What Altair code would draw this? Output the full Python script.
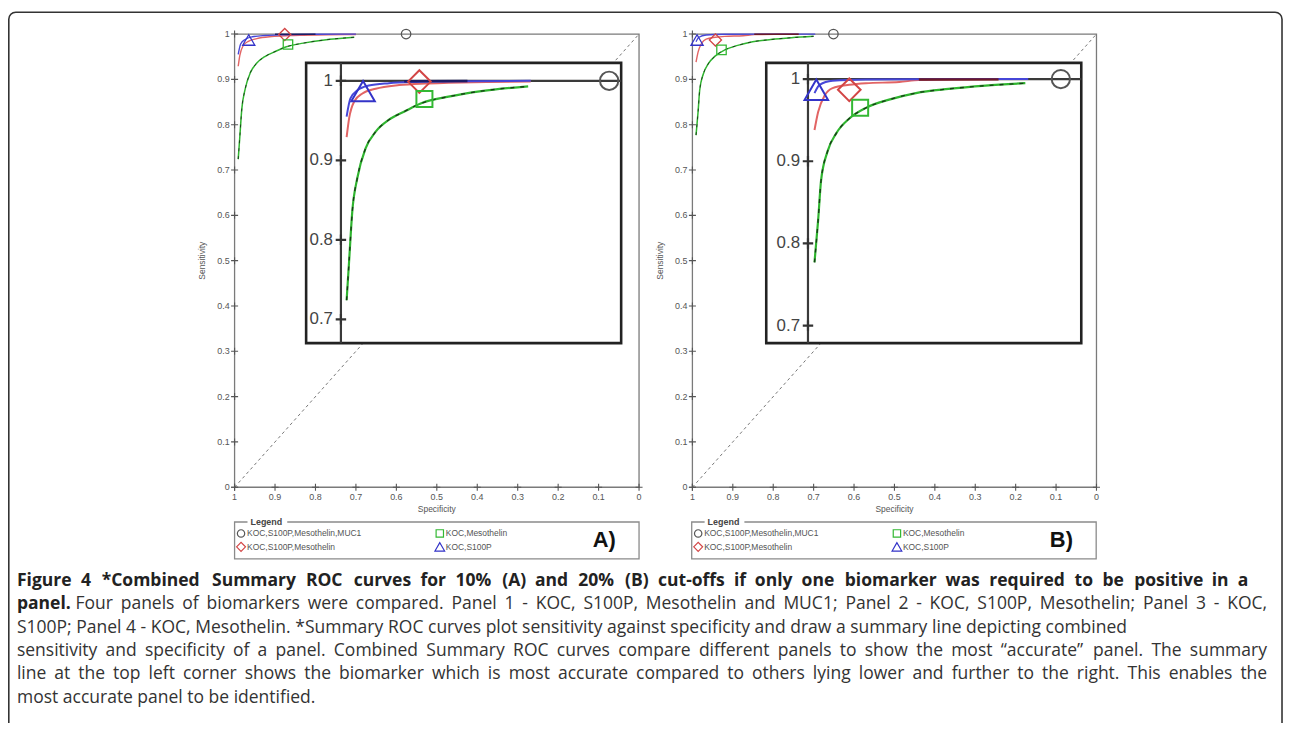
import altair as alt
import pandas as pd

# ---------------- data ----------------
SERIES = ["KOC,S100P,Mesothelin,MUC1", "KOC,S100P,Mesothelin", "KOC,Mesothelin", "KOC,S100P"]
SHAPES = ["circle", "diamond", "square", "triangle-up"]
MARK_COLORS = ["#555555", "#d24545", "#33b833", "#3333c8"]

# Panel A (10% cut-off) summary curves
A_GREEN_SPEC = [0.991, 0.987, 0.982, 0.974, 0.961, 0.945, 0.924, 0.898, 0.872, 0.830, 0.778, 0.704]
A_GREEN_SENS = [0.724, 0.774, 0.836, 0.878, 0.915, 0.936, 0.951, 0.962, 0.972, 0.980, 0.987, 0.993]
A_RED_SPEC = [0.991, 0.987, 0.979, 0.966, 0.945, 0.908, 0.867, 0.830, 0.770, 0.700]
A_RED_SENS = [0.929, 0.953, 0.974, 0.984, 0.990, 0.9946, 0.9966, 0.9975, 0.9985, 0.9992]
A_BLUE_SPEC = [0.991, 0.985, 0.974, 0.956, 0.924, 0.882, 0.800, 0.700]
A_BLUE_SENS = [0.955, 0.978, 0.988, 0.994, 0.997, 0.9985, 0.9995, 1.0]
A_DARK_SPEC = [0.900, 0.800]
A_DARK_SENS = [0.9995, 0.9997]
# summary points: circle, diamond, square, triangle
A_POINT_SPEC = [0.576, 0.876, 0.868, 0.965]
A_POINT_SENS = [1.0, 0.999, 0.977, 0.987]

# Panel B (20% cut-off)
B_GREEN_SPEC = [0.991, 0.986, 0.982, 0.973, 0.961, 0.943, 0.920, 0.888, 0.851, 0.806, 0.755, 0.700]
B_GREEN_SENS = [0.777, 0.828, 0.876, 0.912, 0.934, 0.952, 0.965, 0.975, 0.983, 0.988, 0.992, 0.995]
B_RED_SPEC = [0.991, 0.986, 0.977, 0.966, 0.943, 0.920, 0.874, 0.847, 0.790, 0.737]
B_RED_SENS = [0.938, 0.960, 0.980, 0.989, 0.993, 0.995, 0.9964, 0.9988, 0.9995, 0.9997]
B_BLUE_SPEC = [0.991, 0.984, 0.966, 0.920, 0.800, 0.696]
B_BLUE_SENS = [0.983, 0.993, 0.998, 0.9995, 1.0, 1.0]
B_DARK_SPEC = [0.847, 0.737]
B_DARK_SENS = [0.9995, 0.9997]
B_POINT_SPEC = [0.651, 0.943, 0.928, 0.9885]
B_POINT_SENS = [1.0, 0.987, 0.965, 0.987]

MAIN_TICKS = [0.0, 0.1, 0.2, 0.3, 0.4, 0.5, 0.6, 0.7, 0.8, 0.9, 1.0]
MAIN_TICK_LABELS = ["0", "0.1", "0.2", "0.3", "0.4", "0.5", "0.6", "0.7", "0.8", "0.9", "1"]
INSET_TICKS = [0.7, 0.8, 0.9, 1.0]
INSET_TICK_LABELS = ["0.7", "0.8", "0.9", "1"]

PANEL_LABELS = ["A)", "B)"]

CAPTION_BOLD_1 = "Figure 4 *Combined Summary ROC curves for 10% (A) and 20% (B) cut-offs if only one biomarker was required to be positive in a"
CAPTION_BOLD_2 = "panel."
CAPTION_REG_2 = "Four panels of biomarkers were compared. Panel 1 - KOC, S100P, Mesothelin and MUC1; Panel 2 - KOC, S100P, Mesothelin; Panel 3 - KOC,"
CAPTION_REST = [
    "S100P; Panel 4 - KOC, Mesothelin. *Summary ROC curves plot sensitivity against specificity and draw a summary line depicting combined",
    "sensitivity and specificity of a panel. Combined Summary ROC curves compare different panels to show the most \u201caccurate\u201d panel. The summary",
    "line at the top left corner shows the biomarker which is most accurate compared to others lying lower and further to the right. This enables the",
    "most accurate panel to be identified.",
]

# ---------------- layout ----------------
W, H = 1284, 715
FONT = "Liberation Sans, Arial, sans-serif"
CAP_FONT = "Open Sans"
PLUS = "M-1,0L1,0M0,-1L0,1"

GREEN, RED, BLUE = "#2fb52f", "#e26464", "#4646d8"


def lin(domain, rng):
    return alt.Scale(domain=list(domain), range=list(rng), nice=False, zero=False, clamp=False)


def xy(xsc, ysc, xf="spec", yf="sens"):
    return dict(x=alt.X(f"{xf}:Q", scale=xsc, axis=None), y=alt.Y(f"{yf}:Q", scale=ysc, axis=None))


def line(spec, sens, color, width, xsc, ysc, dash=None, opacity=1.0):
    df = pd.DataFrame({"spec": spec, "sens": sens, "o": list(range(len(spec)))})
    kw = dict(color=color, strokeWidth=width, opacity=opacity, interpolate="monotone")
    if dash:
        kw["strokeDash"] = dash
    return alt.Chart(df).mark_line(**kw).encode(order="o:Q", **xy(xsc, ysc))


def panel_layers(d, main_x, main_y, inset_xdom, inset_xpx, inset_ydom, inset_ypx):
    layers = []
    mx = lin([1, 0], main_x)
    my = lin([0, 1], main_y)
    frame = pd.DataFrame({"x0": [1.0], "x1": [0.0], "y0": [0.0], "y1": [1.0]})
    layers.append(alt.Chart(frame).mark_rect(fill="white", fillOpacity=0, stroke="#7a7a7a", strokeWidth=1.3).encode(
        x=alt.X("x0:Q", scale=mx, axis=None), x2="x1:Q",
        y=alt.Y("y0:Q", scale=my, axis=None), y2="y1:Q"))
    layers.append(line([1.0, 0.0], [0.0, 1.0], "#666666", 0.9, mx, my, dash=[3, 3]))
    layers.append(line(d["green"][0], d["green"][1], GREEN, 1.5, mx, my))
    layers.append(line(d["green"][0], d["green"][1], "#111111", 1.0, mx, my, dash=[3, 5], opacity=0.7))
    layers.append(line(d["red"][0], d["red"][1], RED, 1.4, mx, my))
    layers.append(line(d["blue"][0], d["blue"][1], BLUE, 1.4, mx, my))
    layers.append(line(d["dark"][0], d["dark"][1], d["darkc"], 1.6, mx, my))
    sizes = [90, 150, 90, 150]
    for i in range(4):
        df = pd.DataFrame({"spec": [d["pts"][0][i]], "sens": [d["pts"][1][i]]})
        layers.append(alt.Chart(df).mark_point(shape=SHAPES[i], filled=False, size=sizes[i],
                                               stroke=MARK_COLORS[i], strokeWidth=1.3, opacity=1).encode(**xy(mx, my)))
    tx = pd.DataFrame({"spec": MAIN_TICKS, "sens": [0.0] * len(MAIN_TICKS), "lab": MAIN_TICK_LABELS})
    ty = pd.DataFrame({"spec": [1.0] * len(MAIN_TICKS), "sens": MAIN_TICKS, "lab": MAIN_TICK_LABELS})
    for t in (tx, ty):
        layers.append(alt.Chart(t).mark_point(shape=PLUS, size=50, filled=False, stroke="#555555",
                                              strokeWidth=1.1, opacity=1).encode(**xy(mx, my)))
    layers.append(alt.Chart(tx).mark_text(dy=10, fontSize=9, font=FONT, color="#555555", baseline="middle").encode(
        text="lab:N", **xy(mx, my)))
    layers.append(alt.Chart(ty).mark_text(dx=-5, fontSize=9, font=FONT, color="#555555", align="right",
                                          baseline="middle").encode(text="lab:N", **xy(mx, my)))
    layers.append(alt.Chart(pd.DataFrame({"t": ["Specificity"], "spec": [0.5], "sens": [0.0]})).mark_text(
        dy=22, fontSize=8.5, font=FONT, color="#555555", baseline="middle").encode(text="t:N", **xy(mx, my)))
    layers.append(alt.Chart(pd.DataFrame({"t": ["Sensitivity"], "spec": [1.0], "sens": [0.5]})).mark_text(
        dy=-33, fontSize=8.5, font=FONT, color="#555555", angle=270, baseline="middle").encode(text="t:N", **xy(mx, my)))

    # ---------- inset ----------
    ix = lin(inset_xdom, inset_xpx)
    iy = lin(inset_ydom, inset_ypx)
    box = pd.DataFrame({"x0": [inset_xdom[0]], "x1": [inset_xdom[1]], "y0": [inset_ydom[0]], "y1": [inset_ydom[1]]})
    layers.append(alt.Chart(box).mark_rect(fill="white", stroke="#222222", strokeWidth=2.6).encode(
        x=alt.X("x0:Q", scale=ix, axis=None), x2="x1:Q",
        y=alt.Y("y0:Q", scale=iy, axis=None), y2="y1:Q"))
    vax = pd.DataFrame({"spec": [1.0], "sens": [inset_ydom[0]], "sens2": [inset_ydom[1]]})
    layers.append(alt.Chart(vax).mark_rule(color="#3a3a3a", strokeWidth=2.2).encode(y2="sens2:Q", **xy(ix, iy)))
    hax = pd.DataFrame({"spec": [1.0], "spec2": [inset_xdom[1]], "sens": [1.0]})
    layers.append(alt.Chart(hax).mark_rule(color="#3a3a3a", strokeWidth=2.2).encode(x2="spec2:Q", **xy(ix, iy)))
    itk = pd.DataFrame({"spec": [1.0] * len(INSET_TICKS), "sens": INSET_TICKS, "lab": INSET_TICK_LABELS})
    layers.append(alt.Chart(itk).mark_point(shape=PLUS, size=110, filled=False, stroke="#333333",
                                            strokeWidth=2.2, opacity=1).encode(**xy(ix, iy)))
    layers.append(alt.Chart(itk).mark_text(dx=-8, fontSize=17, font=FONT, color="#444444", align="right",
                                           baseline="middle").encode(text="lab:N", **xy(ix, iy)))
    layers.append(line(d["green"][0], d["green"][1], GREEN, 2.2, ix, iy))
    layers.append(line(d["green"][0], d["green"][1], "#111111", 1.4, ix, iy, dash=[4, 6], opacity=0.75))
    layers.append(line(d["red"][0], d["red"][1], RED, 2.0, ix, iy))
    layers.append(line(d["blue"][0], d["blue"][1], BLUE, 2.0, ix, iy))
    layers.append(line(d["dark"][0], d["dark"][1], d["darkc"], 2.4, ix, iy))
    isizes = [340, 520, 260, 560]
    for i in range(4):
        df = pd.DataFrame({"spec": [d["pts"][0][i]], "sens": [d["pts"][1][i]]})
        layers.append(alt.Chart(df).mark_point(shape=SHAPES[i], filled=False, size=isizes[i],
                                               stroke=MARK_COLORS[i], strokeWidth=2.0, opacity=1).encode(**xy(ix, iy)))
    return layers


def legend_layers(box_left, label):
    layers = []
    top, bottom, right = 515, 552, box_left + 407
    layers.append(alt.Chart(pd.DataFrame({"a": [0]})).mark_rect(fill="white", stroke="#8a8a8a", strokeWidth=1.3).encode(
        x=alt.value(box_left), x2=alt.value(right), y=alt.value(top), y2=alt.value(bottom)))
    layers.append(alt.Chart(pd.DataFrame({"a": [0]})).mark_rect(fill="white").encode(
        x=alt.value(box_left + 13), x2=alt.value(box_left + 53), y=alt.value(top - 4), y2=alt.value(top + 3)))
    layers.append(alt.Chart(pd.DataFrame({"t": ["Legend"]})).mark_text(
        fontSize=9, font=FONT, fontWeight="bold", color="#444444", align="left", baseline="middle").encode(
        text="t:N", x=alt.value(box_left + 16), y=alt.value(top)))
    cols = [0, 0, 1, 1]
    rows = [0, 1, 0, 1]
    lx = lin([0, 1], [box_left + 6.5, box_left + 206.5])
    ly = lin([0, 1], [526.5, 540])
    lsizes = [55, 80, 55, 95]
    for i in range(4):
        df = pd.DataFrame({"c": [cols[i]], "r": [rows[i]], "t": [SERIES[i]]})
        enc = dict(x=alt.X("c:Q", scale=lx, axis=None), y=alt.Y("r:Q", scale=ly, axis=None))
        layers.append(alt.Chart(df).mark_point(shape=SHAPES[i], filled=False, size=lsizes[i], stroke=MARK_COLORS[i],
                                               strokeWidth=1.2, opacity=1).encode(**enc))
        layers.append(alt.Chart(df).mark_text(dx=6, fontSize=8.5, font=FONT, color="#555555", align="left",
                                              baseline="middle").encode(text="t:N", **enc))
    layers.append(alt.Chart(pd.DataFrame({"t": [label]})).mark_text(
        fontSize=22, font=FONT, fontWeight="bold", color="#111111", align="center", baseline="middle").encode(
        text="t:N", x=alt.value(box_left + 372), y=alt.value(533)))
    return layers


# ---------- caption typesetting (approximate Open Sans advance widths, em) ----------
_WID = {' ': 0.26, 'a': 0.556, 'b': 0.613, 'c': 0.476, 'd': 0.613, 'e': 0.561, 'f': 0.339, 'g': 0.548,
        'h': 0.614, 'i': 0.253, 'j': 0.253, 'k': 0.525, 'l': 0.253, 'm': 0.930, 'n': 0.614, 'o': 0.604,
        'p': 0.613, 'q': 0.613, 'r': 0.408, 's': 0.477, 't': 0.353, 'u': 0.614, 'v': 0.501, 'w': 0.778,
        'x': 0.524, 'y': 0.502, 'z': 0.468, 'A': 0.633, 'B': 0.648, 'C': 0.631, 'D': 0.729, 'E': 0.556,
        'F': 0.516, 'G': 0.728, 'H': 0.738, 'I': 0.279, 'J': 0.267, 'K': 0.614, 'L': 0.519, 'M': 0.903,
        'N': 0.754, 'O': 0.779, 'P': 0.602, 'Q': 0.779, 'R': 0.618, 'S': 0.549, 'T': 0.553, 'U': 0.728,
        'V': 0.592, 'W': 0.930, 'X': 0.571, 'Y': 0.568, 'Z': 0.561, '.': 0.266, ',': 0.258, ';': 0.266,
        ':': 0.266, '-': 0.322, '*': 0.551, '(': 0.296, ')': 0.296, '%': 0.825, '\u201c': 0.405, '\u201d': 0.405}


def word_w(word, fs, bold=False):
    w = sum(_WID.get(c, 0.572 if c.isdigit() else 0.55) for c in word)
    return w * fs * (1.07 if bold else 1.0)


def set_line(text, x0, fs, bold=False, right=None):
    words = text.split(" ")
    ws = [word_w(w, fs, bold) for w in words]
    gap = _WID[' '] * fs
    if right is not None and len(words) > 1:
        gap = (right - x0 - sum(ws)) / (len(words) - 1)
    xs, x = [], x0
    for w in ws:
        xs.append(x)
        x += w + gap
    return words, xs, x - gap


CFS = 17.6
BASE0, STEP = 579, 23.6
cap_rows = []
wds, xs, _ = set_line(CAPTION_BOLD_1, 9, CFS, True, right=1248)
cap_rows += [dict(t=w, px=x, line=0, b="bold") for w, x in zip(wds, xs)]
wds, xs, end = set_line(CAPTION_BOLD_2, 9, CFS, True)
cap_rows += [dict(t=w, px=x, line=1, b="bold") for w, x in zip(wds, xs)]
wds, xs, _ = set_line(CAPTION_REG_2, end + 5, CFS, False, right=1267)
cap_rows += [dict(t=w, px=x, line=1, b="normal") for w, x in zip(wds, xs)]
rights = [None, 1267, 1267, None]
for k, (txt, r) in enumerate(zip(CAPTION_REST, rights)):
    wds, xs, _ = set_line(txt, 9, CFS, False, right=r)
    cap_rows += [dict(t=w, px=x, line=k + 2, b="normal") for w, x in zip(wds, xs)]
cap_df = pd.DataFrame(cap_rows)

dataA = {"green": (A_GREEN_SPEC, A_GREEN_SENS), "red": (A_RED_SPEC, A_RED_SENS), "blue": (A_BLUE_SPEC, A_BLUE_SENS),
         "dark": (A_DARK_SPEC, A_DARK_SENS), "darkc": "#1c1c66", "pts": (A_POINT_SPEC, A_POINT_SENS)}
dataB = {"green": (B_GREEN_SPEC, B_GREEN_SENS), "red": (B_RED_SPEC, B_RED_SENS), "blue": (B_BLUE_SPEC, B_BLUE_SENS),
         "dark": (B_DARK_SPEC, B_DARK_SENS), "darkc": "#6a1a2a", "pts": (B_POINT_SPEC, B_POINT_SENS)}

layers = []
layers.append(alt.Chart(pd.DataFrame({"a": [0]})).mark_rect(
    fill="white", fillOpacity=0, stroke="#333333", strokeWidth=1.6, cornerRadius=7).encode(
    x=alt.value(0.8), x2=alt.value(1282), y=alt.value(2), y2=alt.value(900)))

layers += panel_layers(dataA, [228, 635], [480, 24], [1.055, 0.557], [300, 617], [0.670, 1.0225], [335, 53])
layers += panel_layers(dataB, [688.7, 1095.3], [480, 24], [1.0576, 0.6228], [763, 1080], [0.6787, 1.0197], [335, 53])
layers += legend_layers(228, PANEL_LABELS[0])
layers += legend_layers(688, PANEL_LABELS[1])

cap_x = lin([0, W], [0, W])
cap_y = lin([0, 5], [BASE0, BASE0 + 5 * STEP])
for weight, col in (("bold", "#222222"), ("normal", "#333333")):
    layers.append(alt.Chart(cap_df[cap_df.b == weight]).mark_text(
        fontSize=CFS, font=CAP_FONT, fontWeight=weight, color=col, align="left", baseline="alphabetic").encode(
        text="t:N", x=alt.X("px:Q", scale=cap_x, axis=None), y=alt.Y("line:Q", scale=cap_y, axis=None)))

chart = alt.layer(*layers).resolve_scale(x="independent", y="independent").properties(
    width=W, height=H, padding=0, autosize=alt.AutoSizeParams(type="none"), background="white"
).configure_view(stroke=None)

chart.save("out.html", embed_options={"renderer": "svg", "actions": False})
